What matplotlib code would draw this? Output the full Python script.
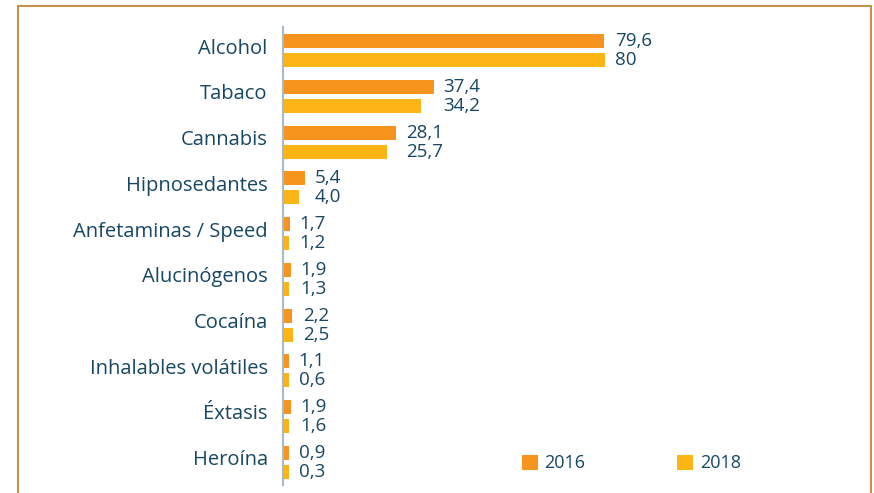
import matplotlib.pyplot as plt
from matplotlib.patches import Rectangle
import numpy as np

# ── data ──────────────────────────────────────────────────────────────────────
categories = ["Alcohol", "Tabaco", "Cannabis", "Hipnosedantes",
              "Anfetaminas / Speed", "Alucinógenos", "Cocaína",
              "Inhalables volátiles", "Éxtasis", "Heroína"]
vals_2016 = [79.6, 37.4, 28.1, 5.4, 1.7, 1.9, 2.2, 1.1, 1.9, 0.9]
vals_2018 = [80.0, 34.2, 25.7, 4.0, 1.2, 1.3, 2.5, 0.6, 1.6, 0.3]
labels_2016 = ["79,6", "37,4", "28,1", "5,4", "1,7", "1,9", "2,2", "1,1", "1,9", "0,9"]
labels_2018 = ["80", "34,2", "25,7", "4,0", "1,2", "1,3", "2,5", "0,6", "1,6", "0,3"]
years = ["2016", "2018"]

# ── style ─────────────────────────────────────────────────────────────────────
C16 = "#F7941D"
C18 = "#FDB515"
TXT = "#174763"
MIN_W = 1.5          # tiny bars are drawn with a minimum visible width
plt.rcParams["font.family"] = ["Open Sans", "DejaVu Sans"]

W, H = 874, 493
fig = plt.figure(figsize=(W / 100, H / 100), dpi=100)
ax = fig.add_axes([283 / W, 1 - 485 / H, (871 - 283) / W, (485 - 27) / H])

y = np.arange(len(categories))
off = 0.208
bh = 0.306
d16 = np.maximum(vals_2016, MIN_W)
d18 = np.maximum(vals_2018, MIN_W)
b16 = ax.barh(y - off, d16, height=bh, color=C16, label=years[0])
b18 = ax.barh(y + off, d18, height=bh, color=C18, label=years[1])

# value labels: both labels of a pair start after the longer bar
lab_x = np.maximum(d16, d18)
for yi, x, s16, s18 in zip(y, lab_x, labels_2016, labels_2018):
    ax.annotate(s16, (x, yi - off), xytext=(7, 0), textcoords="offset points",
                va="center", ha="left", fontsize=13.5, color=TXT)
    ax.annotate(s18, (x, yi + off), xytext=(7, 0), textcoords="offset points",
                va="center", ha="left", fontsize=13.5, color=TXT)

ax.set_xlim(0, 588 / 4.03)
ax.set_ylim(9.5, -0.52)
ax.set_yticks(y - 0.1)
ax.set_yticklabels(categories, fontsize=14.5, color=TXT)
ax.tick_params(axis="y", length=0, pad=11)
ax.set_xticks([])
for side in ["top", "right", "bottom"]:
    ax.spines[side].set_visible(False)
ax.spines["left"].set_color("#A9B9C6")
ax.spines["left"].set_linewidth(1.5)

leg = ax.legend(handles=[b16, b18], loc="lower left",
                bbox_to_anchor=(0.378, -0.008), ncol=2, frameon=False,
                handlelength=0.9, handleheight=0.9, handletextpad=0.35,
                columnspacing=5.1, fontsize=13)
for t in leg.get_texts():
    t.set_color(TXT)

# outer frame
fig.patches.append(Rectangle((18 / W, -0.1), (871 - 18) / W, 1.1 - 6 / H,
                             transform=fig.transFigure, fill=False,
                             edgecolor="#C8914E", linewidth=1.5))

fig.savefig("out.png", dpi=100)
